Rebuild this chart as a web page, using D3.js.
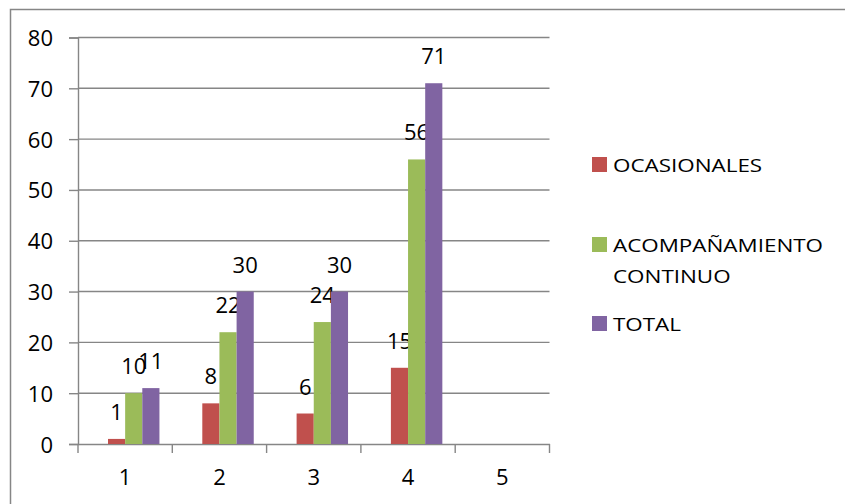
<!DOCTYPE html>
<html>
<head>
<meta charset="utf-8">
<script src="https://cdn.jsdelivr.net/npm/d3@7"></script>
<style>
  body { margin: 0; background: #fff; }
  text { font-family: "Open Sans", "Liberation Sans", sans-serif; fill: #000; }
</style>
</head>
<body>
<svg id="chart"></svg>
<script>
// data
const categories = ["1", "2", "3", "4", "5"];
const seriesNames = ["OCASIONALES", "ACOMPAÑAMIENTO CONTINUO", "TOTAL"];
const ocasionales = [1, 8, 6, 15, null];
const acompanamiento = [10, 22, 24, 56, null];
const total = [11, 30, 30, 71, null];
const yTicks = [0, 10, 20, 30, 40, 50, 60, 70, 80];

const colors = ["#C0504D", "#9BBB59", "#8064A2"];
const gridColor = "#868686";
const numSX = 1.0;
const legSX = 1.18; // legend text is set wide in the original

const width = 845, height = 504;
const svg = d3.select("#chart").attr("width", width).attr("height", height);

// outer frame (cut off at right/bottom in the original)
svg.append("rect")
  .attr("x", 10.5).attr("y", 9.5)
  .attr("width", 900).attr("height", 600)
  .attr("fill", "none")
  .attr("stroke", gridColor)
  .attr("stroke-width", 1.5);

const x0 = d3.scaleBand().domain(categories).range([78, 549.5]);
// 4 slots per category: the first is an empty series in the original sheet
const x1 = d3.scaleBand()
  .domain(["", ...seriesNames])
  .range([0, x0.bandwidth()])
  .paddingInner(0)
  .paddingOuter(0.75);
const y = d3.scaleLinear().domain([0, 80]).range([444, 37.5]);

// gridlines
svg.append("g")
  .selectAll("line")
  .data(yTicks.filter((d) => d > 0))
  .join("line")
  .attr("x1", 78).attr("x2", 549.5)
  .attr("y1", (d) => y(d)).attr("y2", (d) => y(d))
  .attr("stroke", gridColor)
  .attr("stroke-width", 1.4);

// y axis
const yAxis = svg.append("g")
  .attr("transform", "translate(78,0)")
  .call(d3.axisLeft(y).tickValues(yTicks).tickSize(9).tickPadding(0));
yAxis.select(".domain").attr("stroke", gridColor).attr("stroke-width", 1.4);
yAxis.selectAll(".tick line").attr("stroke", gridColor).attr("stroke-width", 1.4);
yAxis.selectAll(".tick text")
  .attr("x", null).attr("dy", null)
  .attr("font-size", 22)
  .attr("text-anchor", "end")
  .attr("transform", `translate(-25,8) scale(${numSX},1)`);

// x axis
const xAxis = svg.append("g")
  .attr("transform", "translate(0,444)")
  .call(d3.axisBottom(x0).tickSize(0).tickPadding(0));
xAxis.select(".domain").attr("stroke", gridColor).attr("stroke-width", 1.4);
xAxis.selectAll(".tick text")
  .attr("y", null).attr("dy", null)
  .attr("font-size", 22)
  .attr("transform", `translate(0,41) scale(${numSX},1)`);

// x tick marks sit between categories
svg.append("g")
  .selectAll("line")
  .data(categories.concat(["end"]))
  .join("line")
  .attr("x1", (d, i) => (i < categories.length ? x0(d) : x0.range()[1]))
  .attr("x2", (d, i) => (i < categories.length ? x0(d) : x0.range()[1]))
  .attr("y1", 444).attr("y2", 453)
  .attr("stroke", gridColor)
  .attr("stroke-width", 1.4);

const seriesData = [ocasionales, acompanamiento, total];

seriesNames.forEach((name, s) => {
  const vals = seriesData[s];
  const g = svg.append("g");
  const pts = categories
    .map((c, i) => ({ c: c, v: vals[i] }))
    .filter((d) => d.v != null);

  g.selectAll("rect")
    .data(pts)
    .join("rect")
    .attr("x", (d) => x0(d.c) + x1(name))
    .attr("y", (d) => y(d.v))
    .attr("width", x1.bandwidth())
    .attr("height", (d) => y(0) - y(d.v))
    .attr("fill", colors[s]);

  g.selectAll("text")
    .data(pts)
    .join("text")
    .attr("text-anchor", "middle")
    .attr("font-size", 22)
    .attr("transform", (d) =>
      `translate(${x0(d.c) + x1(name) + x1.bandwidth() / 2},${y(d.v) - 19}) scale(${numSX},1)`)
    .text((d) => d.v);
});

// legend
const legendRows = [
  { y: 157, lines: ["OCASIONALES"] },
  { y: 237, lines: ["ACOMPAÑAMIENTO", "CONTINUO"] },
  { y: 316, lines: ["TOTAL"] },
];
const legend = svg.append("g");
legendRows.forEach((row, i) => {
  legend.append("rect")
    .attr("x", 592).attr("y", row.y)
    .attr("width", 15).attr("height", 15)
    .attr("fill", colors[i]);
  row.lines.forEach((t, j) => {
    legend.append("text")
      .attr("font-size", 19)
      .attr("transform", `translate(613,${row.y + 15 + j * 31}) scale(${legSX},1)`)
      .text(t);
  });
});
</script>
</body>
</html>
